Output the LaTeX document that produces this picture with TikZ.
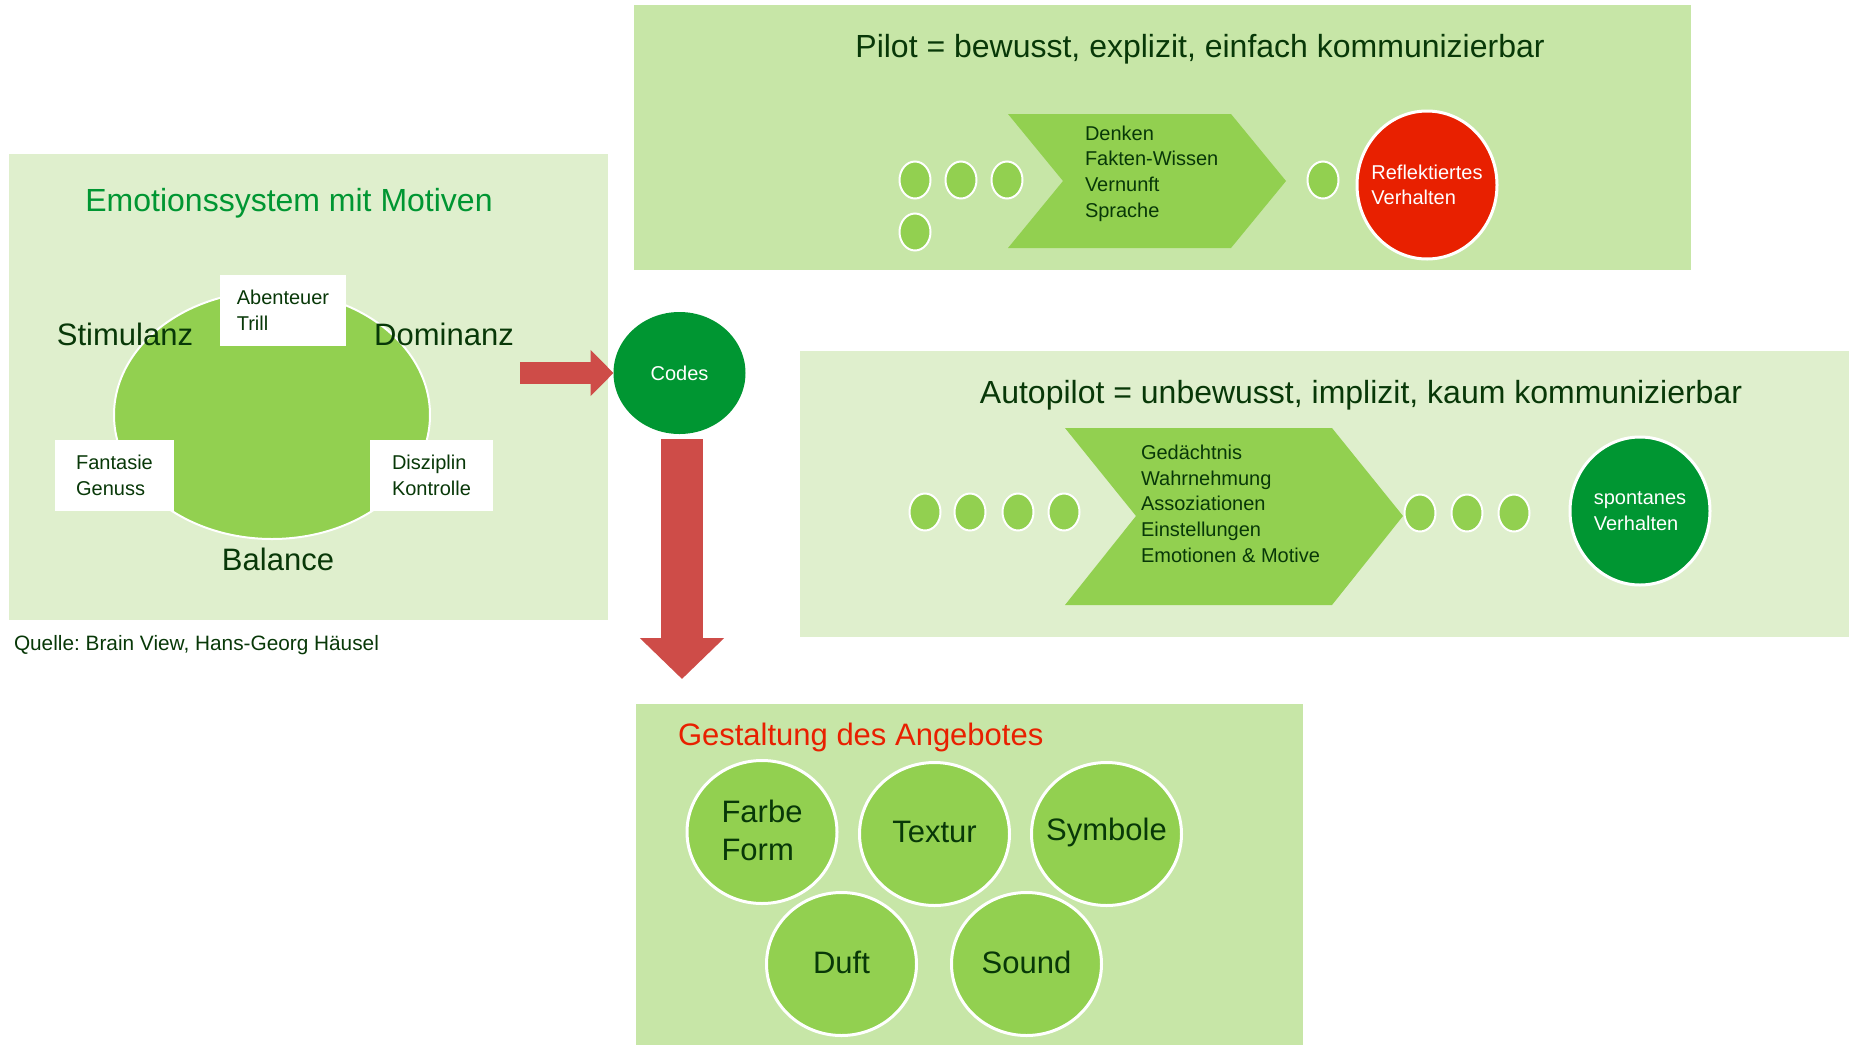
\documentclass[tikz,border=0pt]{standalone}
\usepackage{fontspec}
\setmainfont{Liberation Sans}
\usetikzlibrary{shapes.geometric,arrows.meta}

\definecolor{boxlight}{RGB}{223,239,205}
\definecolor{boxmid}{RGB}{199,230,167}
\definecolor{leaf}{RGB}{146,208,80}
\definecolor{deepgreen}{RGB}{0,150,50}
\definecolor{textgreen}{RGB}{8,56,8}
\definecolor{signalred}{RGB}{232,32,0}
\definecolor{arrowred}{RGB}{206,76,72}

\newcommand{\titlefont}{\fontsize{16}{19}\selectfont}
\newcommand{\bigfont}{\fontsize{15.5}{19}\selectfont}
\newcommand{\smallfont}{\fontsize{10}{12.8}\selectfont}

\begin{document}
\frenchspacing
\begin{tikzpicture}[x=0.5pt,y=-0.5pt]
\tikzset{ inner sep=0pt, outer sep=0pt,
  dot/.style={ellipse, fill=leaf, draw=white, line width=1pt, minimum width=15.5pt, minimum height=18.5pt},
  bigdot/.style={ellipse, fill=leaf, draw=white, line width=1.5pt, minimum width=75pt, minimum height=71.5pt,
    label={[align=left, font=\bigfont, text=textgreen, yshift=1pt]center:#1}},
  endpoint/.style={ellipse, draw=white, line width=1.5pt, minimum width=70pt, minimum height=74pt,
    label={[align=left, font=\smallfont, text=white]center:#1}},
  motive/.style={fill=white, minimum width=63pt, minimum height=35.5pt, align=left, font=\smallfont, text=textgreen},
  pole/.style={anchor=base, font=\bigfont, text=textgreen},
  list/.style={anchor=base west, align=left, font=\smallfont, text=textgreen},
  blockarrow/.style={draw=arrowred, line cap=butt},
}

\useasboundingbox (0,0) rectangle (1849,1045);

%\draw [lightgray, dashed] (0,0) grid[step=100] (1849,1045);

% panels
\fill [boxlight] (9,154)   rectangle (608,620);
\fill [boxmid]   (634,5)   rectangle (1691,270);
\fill [boxlight] (800,351) rectangle (1849,637);
\fill [boxmid]   (636,704) rectangle (1303,1045);

% Emotionssystem
\node [anchor=base, font=\titlefont, text=deepgreen] (emotitle) at (289,211) {Emotionssystem mit Motiven};
\node [ellipse, fill=leaf, draw=white, line width=1pt, minimum width=158pt, minimum height=124pt] (emo) at (272,415) {};

\node [motive] (abenteuer) at (283,310.5) {Abenteuer\\Trill};
\node [motive, minimum width=59.5pt] (fantasie)  at (114.5,475.5) {Fantasie\\Genuss};
\node [motive, minimum width=61.5pt] (disziplin) at (431.5,475.5) {Disziplin\\Kontrolle};

\node [pole] (stimulanz) at (125,345) {Stimulanz};
\node [pole] (dominanz)  at (444,345) {Dominanz};
\node [pole] (balance)   at (278,570) {Balance};

\node [anchor=base west, font=\fontsize{10.4}{12}\selectfont, text=textgreen] (quelle) at (14,650) {Quelle: Brain View, Hans-Georg Häusel};

% Codes
\node [ellipse, fill=deepgreen, minimum width=66pt, minimum height=61pt, font=\smallfont, text=white] (codes) at (679.5,373) {Codes};

\coordinate (emoexit)   at (520,373);
\coordinate (codesexit) at (682,439);
\coordinate (offerin)   at (682,679);

\draw [blockarrow, line width=11pt, -{Triangle[width=22.5pt,length=11.5pt]}, arrowred] (emoexit) -- (emoexit -| codes.west);
\draw [blockarrow, line width=21pt, -{Triangle[width=41pt,length=20.5pt]}, arrowred] (codesexit) -- (offerin);

% Pilot
\node [anchor=base, font=\titlefont, text=textgreen] (pilottitle) at (1200,57) {Pilot = bewusst, explizit, einfach kommunizierbar};

\node [dot] (p1) at (915,180)  {};
\node [dot] (p2) at (961,180)  {};
\node [dot] (p3) at (1007,180) {};
\node [dot] (p4) at (915,232)  {};

\fill [leaf] (1008,114) -- (1231,114) -- (1286,181) -- (1231,248) -- (1008,248) -- (1063,181) -- cycle;
\node [list] (pilotlist) at (1085,217) {Denken\\Fakten-Wissen\\Vernunft\\Sprache};

\node [dot] (p5) at (1323,180) {};
\node [endpoint={Reflektiertes\\Verhalten}, fill=signalred] (reflektiert) at (1427,185) {};

% Autopilot
\node [anchor=base, font=\titlefont, text=textgreen] (autotitle) at (1361,403) {Autopilot = unbewusst, implizit, kaum kommunizierbar};

\node [dot] (a1) at (925,512)  {};
\node [dot] (a2) at (970,512)  {};
\node [dot] (a3) at (1018,512) {};
\node [dot] (a4) at (1064,512) {};

\fill [leaf] (1065,428) -- (1332,428) -- (1403,516) -- (1332,605) -- (1065,605) -- (1136,516) -- cycle;
\node [list] (autolist) at (1141,562) {Gedächtnis\\Wahrnehmung\\Assoziationen\\Einstellungen\\Emotionen \& Motive};

\node [dot] (a5) at (1420,513) {};
\node [dot] (a6) at (1467,513) {};
\node [dot] (a7) at (1514,513) {};
\node [endpoint={spontanes\\Verhalten}, fill=deepgreen] (spontan) at (1640,511) {};

% Gestaltung
\node [anchor=base west, font=\bigfont, text=signalred] (offertitle) at (678,745) {Gestaltung des Angebotes};

\node [bigdot={Farbe\\Form}] (farbe)   at (762,832)    {};
\node [bigdot=Textur]        (textur)  at (934.5,834)  {};
\node [bigdot=Symbole]       (symbole) at (1106.5,834) {};
\node [bigdot=Duft]          (duft)    at (841.5,964)  {};
\node [bigdot=Sound]         (sound)   at (1026.5,964) {};
\end{tikzpicture}
\end{document}
